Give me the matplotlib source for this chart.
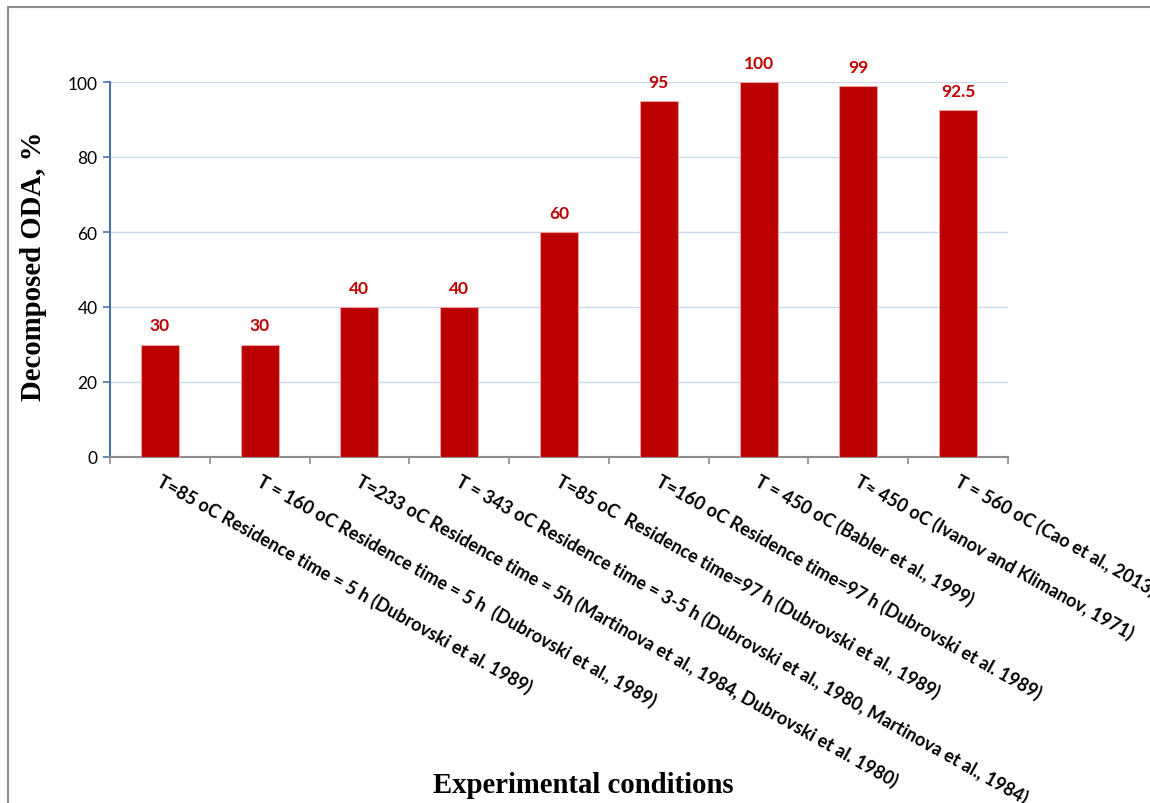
import matplotlib
matplotlib.use("Agg")
from matplotlib import pyplot as plt
from matplotlib.patches import Rectangle

# Data
conditions = [
    "T=85 oC Residence time = 5 h (Dubrovski et al. 1989)",
    "T = 160 oC Residence time = 5 h  (Dubrovski et al., 1989)",
    "T=233 oC Residence time = 5h (Martinova et al., 1984, Dubrovski et al. 1980)",
    "T = 343 oC Residence time = 3-5 h (Dubrovski et al., 1980, Martinova et al., 1984)",
    "T=85 oC  Residence time=97 h (Dubrovski et al., 1989)",
    "T=160 oC Residence time=97 h (Dubrovski et al. 1989)",
    "T = 450 oC (Babler et al., 1999)",
    "T\u2248 450 oC (Ivanov and Klimanov, 1971)",
    "T = 560 oC (Cao et al., 2013)",
]
decomposed = [30, 30, 40, 40, 60, 95, 100, 99, 92.5]
value_labels = ["30", "30", "40", "40", "60", "95", "100", "99", "92.5"]
y_ticks = [0, 20, 40, 60, 80, 100]

BAR_COLOR = "#bb0000"
LABEL_COLOR = "#c00000"
AXIS_BLUE = "#4a74b0"
GRID_BLUE = "#c9daf0"

plt.rcParams["font.family"] = ["Lato", "DejaVu Sans"]

W, H = 1150, 804
fig = plt.figure(figsize=(W / 100, H / 100), dpi=100)
ax = fig.add_axes([110 / W, 1 - 458 / H, (1008 - 110) / W, (458 - 83) / H])

# outer chart frame (runs off the right and bottom edges)
fig.patches.append(Rectangle((8 / W, -0.05), 1.2, 1 - 8 / H + 0.05,
                             transform=fig.transFigure, fill=False,
                             edgecolor="#8c8c8c", linewidth=1.5))

x = list(range(len(decomposed)))
ax.bar(x, decomposed, width=0.38, color=BAR_COLOR, edgecolor="#e8a0a0",
       linewidth=0.8, zorder=3)

for xi, v, lab in zip(x, decomposed, value_labels):
    ax.annotate(lab, (xi, v), xytext=(0, 8), textcoords="offset points",
                ha="center", va="bottom", color=LABEL_COLOR,
                fontsize=12.5, fontweight="bold")

ax.set_xlim(-0.5, len(decomposed) - 0.5)
ax.set_ylim(0, 100)
ax.set_yticks(y_ticks)
ax.yaxis.grid(True, color=GRID_BLUE, linewidth=1, zorder=0)
ax.set_axisbelow(True)

for side in ("top", "right"):
    ax.spines[side].set_visible(False)
ax.spines["left"].set_color(AXIS_BLUE)
ax.spines["left"].set_linewidth(1.5)
ax.spines["bottom"].set_color("#8c8c8c")
ax.spines["bottom"].set_linewidth(1.5)

ax.tick_params(axis="y", colors=AXIS_BLUE, labelcolor="black", length=5,
               width=1.2, labelsize=12.5, pad=4)
# category boundary ticks
ax.set_xticks([i - 0.5 for i in range(len(decomposed) + 1)])
ax.set_xticklabels([])
ax.tick_params(axis="x", colors="#8c8c8c", length=5, width=1.2)

for xi, lab in zip(x, conditions):
    ax.annotate(lab, (xi, 0), xytext=(2, -10), textcoords="offset points",
                rotation=-29.3, rotation_mode="anchor", ha="left", va="top",
                fontsize=13, fontweight="bold", color="black",
                annotation_clip=False)

fig.text(34 / W, 1 - 266 / H, "Decomposed ODA, %", rotation=90,
         ha="center", va="center", fontsize=20.7, fontweight="bold",
         family="Liberation Serif")
fig.text(583 / W, 1 - 786 / H, "Experimental conditions",
         ha="center", va="center", fontsize=20.7, fontweight="bold",
         family="Liberation Serif")

fig.savefig("out.png", dpi=100)
